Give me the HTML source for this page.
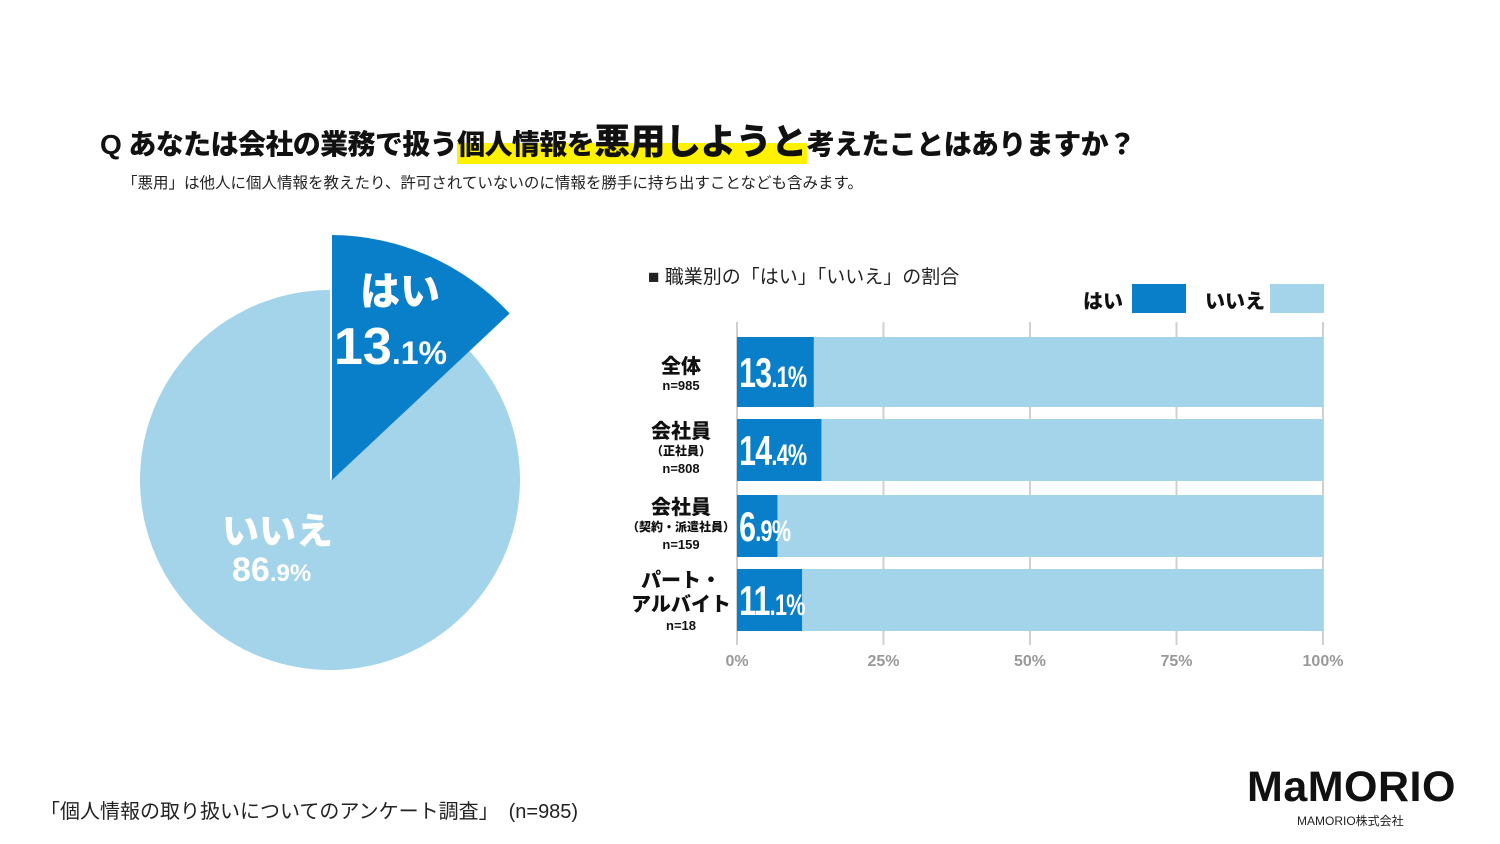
<!DOCTYPE html>
<html><head><meta charset="utf-8">
<style>
body{margin:0;width:1500px;height:844px;background:#fff;overflow:hidden;position:relative;font-family:"Liberation Sans","Noto Sans CJK JP",sans-serif;}
.abs{position:absolute;white-space:nowrap;}
.hl{background:linear-gradient(to bottom,transparent 0,transparent 14px,#fff200 14px,#fff200 100%);}
</style></head><body>
<div class="abs" style="left:100px;top:113px;font-size:28px;font-weight:900;color:#111;letter-spacing:-0.6px;">Q あなたは会社の業務で扱う<span class="hl" style="padding-bottom:4px;">個人情報を<span style="font-size:36px;">悪用しようと</span></span>考えたことはありますか？</div>
<div class="abs" style="left:122px;top:171px;font-size:15.5px;color:#222;">「悪用」は他人に個人情報を教えたり、許可されていないのに情報を勝手に持ち出すことなども含みます。</div>

<svg class="abs" style="left:0;top:0" width="1500" height="844">
<g id="pie"></g>
<g id="bars"></g>
</svg>

<div class="abs" style="left:648px;top:262px;font-size:19px;color:#222;">■ 職業別の「はい」「いいえ」の割合</div>
<div class="abs" style="left:1083px;top:285px;font-size:20px;font-weight:900;color:#111;">はい</div>
<div class="abs" style="left:1132px;top:284px;width:54px;height:29px;background:#0a7fc9;"></div>
<div class="abs" style="left:1205px;top:285px;font-size:20px;font-weight:900;color:#111;">いいえ</div>
<div class="abs" style="left:1270px;top:284px;width:54px;height:29px;background:#a3d4ea;"></div>

<div class="abs" style="left:40px;top:795px;font-size:20px;color:#222;">「個人情報の取り扱いについてのアンケート調査」　(n=985)</div>
<div class="abs" style="left:1247px;top:763px;font-size:43px;font-weight:900;color:#111;letter-spacing:0.5px;">MaMORIO</div>
<div class="abs" style="left:1297px;top:812px;font-size:12px;color:#222;">MAMORIO株式会社</div>

<script>
const pieLabels=['はい','いいえ'];
const pieValues=[13.1,86.9];
const categories=['全体','会社員(正社員)','会社員(契約・派遣社員)','パート・アルバイト'];
const yesValues=[13.1,14.4,6.9,11.1];
const tickLabels=['0%','25%','50%','75%','100%'];
const ticks=[0,25,50,75,100];
const NS='http://www.w3.org/2000/svg';
function el(t,a,p){const e=document.createElementNS(NS,t);for(const k in a)e.setAttribute(k,a[k]);p.appendChild(e);return e;}
const pie=document.getElementById('pie');
const cx=330,cy=480;
function pt(r,deg){const a=deg*Math.PI/180;return [cx+r*Math.sin(a),cy-r*Math.cos(a)];}
const tot=pieValues[0]+pieValues[1];
const a1=pieValues[0]/tot*360;
{const r=190;const s=pt(r,a1),e=pt(r,360);
const p=el('path',{d:`M${cx},${cy} L${s[0]},${s[1]} A${r},${r} 0 ${360-a1>180?1:0} 1 ${e[0]},${e[1]} Z`,fill:'#a3d4ea'},pie);

}
{const r=245;const s=pt(r,0),e=pt(r,a1);
const p=el('path',{d:`M${cx+2},${cy} L${s[0]+2},${s[1]} A${r},${r} 0 0 1 ${e[0]},${e[1]} Z`,fill:'#0a7fc9'},pie);

}
function txt(x,y,s,attrs,parent,name){const t=el('text',Object.assign({x:x,y:y,'font-family':'"Liberation Sans","Noto Sans CJK JP",sans-serif'},attrs),parent);t.innerHTML=s;return t;}
function pctParts(v){return v.toFixed(1).split('.');}
let pp=pctParts(pieValues[0]);
txt(360,305,pieLabels[0],{fill:'#fff','font-size':40,'font-weight':900},pie,'pie-label-yes');
txt(334,364,`${pp[0]}<tspan font-size="32">.${pp[1]}%</tspan>`,{fill:'#fff','font-size':52,'font-weight':900},pie,'pie-value-yes');
pp=pctParts(pieValues[1]);
txt(222,544,pieLabels[1],{fill:'#fff','font-size':37,'font-weight':900},pie,'pie-label-no');
txt(232,581,`${pp[0]}<tspan font-size="24">.${pp[1]}%</tspan>`,{fill:'#fff','font-size':34,'font-weight':900},pie,'pie-value-no');
const bars=document.getElementById('bars');
const x0=737,x1=1323;
const xs=v=>x0+(x1-x0)*v/100;
const rowTop=[337,419,495,569],rowH=[70,62,62,62];
ticks.forEach((t,i)=>{
 const g=el('line',{x1:xs(t),x2:xs(t),y1:322,y2:645,stroke:'#d0d0d0','stroke-width':2},bars);
 
 
 txt(xs(t),666,tickLabels[i],{fill:'#999','font-size':16,'font-weight':700,'text-anchor':'middle'},bars,'x-tick-label');
});
categories.forEach((c,i)=>{
 const y=rowTop[i],h=rowH[i];
 const b=el('rect',{x:x0,y:y,width:x1-x0,height:h,fill:'#a3d4ea'},bars);
 
 
 const r=el('rect',{x:x0,y:y,width:xs(yesValues[i])-x0,height:h,fill:'#0a7fc9'},bars);
 
 
 const p=pctParts(yesValues[i]);
 txt(x0+3,y+h/2+15,`${p[0]}<tspan font-size="30">.${p[1]}%</tspan>`,{fill:'#fff','font-size':42,'font-weight':900,'letter-spacing':-1,transform:`scale(0.72,1)`,style:`transform-origin:${x0}px 0px`},bars,'bar-value-label');
});
const lab=[
 [['全体',20,373],['n=985',13,390]],
 [['会社員',20,438],['（正社員）',12,455],['n=808',13,473]],
 [['会社員',20,514],['（契約・派遣社員）',12,531],['n=159',13,549]],
 [['パート・',20,587],['アルバイト',20,611],['n=18',13,630]]
];
lab.forEach(rows=>rows.forEach(r=>txt(681,r[2],r[0],{fill:'#111','font-size':r[1],'font-weight':900,'text-anchor':'middle'},bars,'category-label')));
</script>
</body></html>
